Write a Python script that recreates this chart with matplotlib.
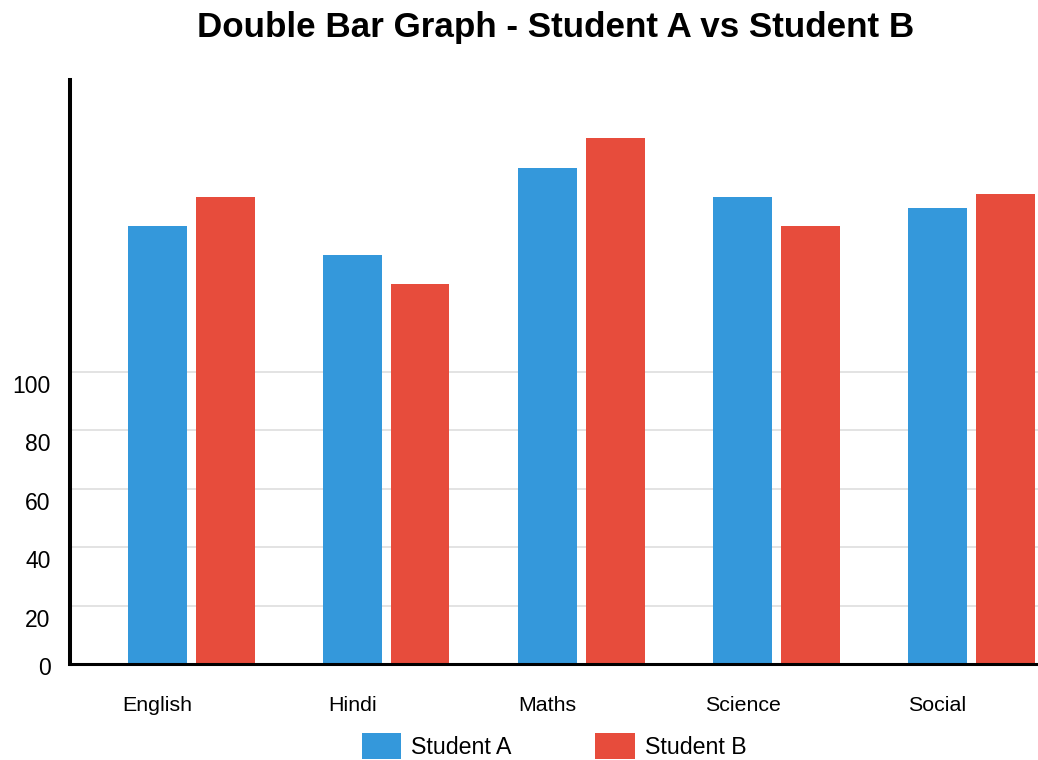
import matplotlib
matplotlib.use("Agg")
import matplotlib.pyplot as plt
import matplotlib.transforms as mtransforms
import numpy as np

subjects = ["English", "Hindi", "Maths", "Science", "Social"]
student_a = [150, 140, 170, 160, 156]
student_b = [160, 130, 180, 150, 161]
y_ticks = [0, 20, 40, 60, 80, 100]

color_a = "#3498db"
color_b = "#e74c3c"

plt.rcParams["font.family"] = ["Liberation Sans", "DejaVu Sans"]

W, H = 1038, 760
fig = plt.figure(figsize=(W / 100, H / 100), dpi=100)

left_px, right_px, bottom_px, top_px = 70, 1038, 664, 80
ax = fig.add_axes([left_px / W, (H - bottom_px) / H,
                   (right_px - left_px) / W, (bottom_px - top_px) / H])

group_px = 195.0
x = np.arange(len(subjects))
bar_w = 59 / group_px
off_a = 57.5 / group_px
off_b = 125.5 / group_px
label_off = 87.5 / group_px

ax.bar(x + off_a, student_a, width=bar_w, align="edge", color=color_a,
       label="Student A", zorder=2)
ax.bar(x + off_b, student_b, width=bar_w, align="edge", color=color_b,
       label="Student B", zorder=2)

ax.set_xlim(0, (right_px - left_px) / group_px)
ax.set_ylim(0, 200)

ax.set_yticks(y_ticks)
ax.set_yticklabels([str(v) for v in y_ticks], fontsize=16.5)
ax.tick_params(axis="y", length=0, pad=14)
for val, lbl in zip(y_ticks, ax.get_yticklabels()):
    dy_px = -2 if val == 0 else -12
    lbl.set_transform(lbl.get_transform() +
                      mtransforms.ScaledTranslation(0, dy_px / 100, fig.dpi_scale_trans))

ax.set_xticks(x + label_off)
ax.set_xticklabels(subjects, fontsize=15.4)
ax.tick_params(axis="x", length=0, pad=23)

ax.yaxis.grid(True, color="#e0e0e0", linewidth=1.3, zorder=0)
ax.set_axisbelow(True)

for side in ("top", "right"):
    ax.spines[side].set_visible(False)
ax.spines["left"].set_linewidth(2.9)
ax.spines["bottom"].set_linewidth(2.2)
ax.spines["left"].set_zorder(3)
ax.spines["bottom"].set_zorder(3)

fig.text(556 / W, 1 - 28 / H, "Double Bar Graph - Student A vs Student B",
         ha="center", va="center", fontsize=25.2, fontweight="bold")

fig.legend(loc="center", bbox_to_anchor=(554 / W, (H - 746) / H),
           ncol=2, frameon=False, fontsize=16.7,
           handlelength=1.7, handleheight=1.3, handletextpad=0.43,
           columnspacing=3.6, borderaxespad=0, borderpad=0)

fig.savefig("out.png", dpi=100)
